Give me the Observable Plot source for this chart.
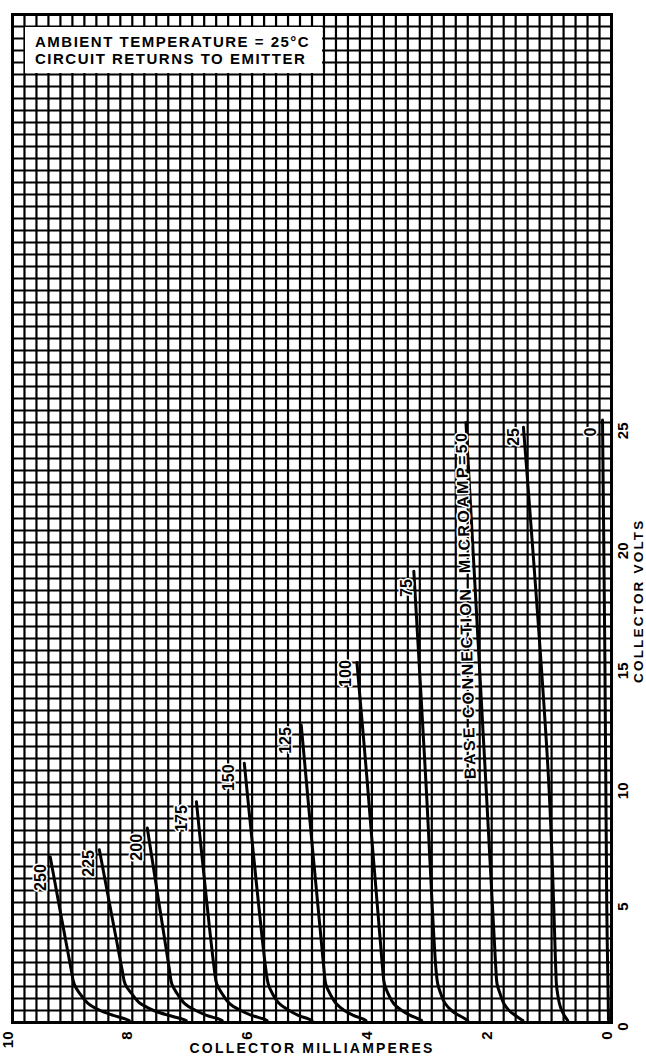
<!DOCTYPE html>
<html><head><meta charset="utf-8">
<script src="https://cdn.jsdelivr.net/npm/d3@7"></script>
<script src="https://cdn.jsdelivr.net/npm/@observablehq/plot@0.6"></script>
<style>
html,body{margin:0;padding:0;background:#fff;}
#wrap{position:relative;width:646px;height:1059px;overflow:hidden;}
#box{position:absolute;left:25px;top:27px;width:297px;height:46px;background:#fff;font-family:"Liberation Sans",Arial,sans-serif;font-weight:bold;font-size:15px;line-height:17px;letter-spacing:1.5px;color:#000;padding:6px 0 0 10px;box-sizing:border-box;white-space:nowrap;}
</style></head><body>
<div id="wrap"><div id="box">AMBIENT TEMPERATURE = 25°C<br>CIRCUIT RETURNS TO EMITTER</div></div>
<script>
// Base current of each curve (microamperes)
const baseMicroamps = [250, 225, 200, 175, 150, 125, 100, 75, 50, 25, 0];

// Each curve: collector volts (v...) and collector milliamperes (i...)
const v250 = [6.9, 2.2, 1.6, 1.2, 0.8, 0.5, 0.3, 0.15, 0.08];
const i250 = [9.37, 9.02, 8.97, 8.875, 8.74, 8.535, 8.32, 8.12, 8.05];
const v225 = [7.2, 2.2, 1.6, 1.2, 0.8, 0.5, 0.3, 0.15, 0.08];
const i225 = [8.55, 8.17, 8.12, 8.01, 7.87, 7.64, 7.40, 7.17, 7.10];
const v200 = [8.1, 2.2, 1.6, 1.2, 0.8, 0.5, 0.3, 0.15, 0.08];
const i200 = [7.75, 7.38, 7.34, 7.25, 7.13, 6.94, 6.76, 6.56, 6.50];
const v175 = [9.2, 2.2, 1.6, 1.2, 0.8, 0.5, 0.3, 0.15, 0.08];
const i175 = [6.93, 6.63, 6.59, 6.50, 6.38, 6.19, 6.01, 5.81, 5.75];
const v150 = [10.8, 2.2, 1.6, 1.2, 0.8, 0.5, 0.3, 0.15, 0.08];
const i150 = [6.13, 5.77, 5.73, 5.66, 5.55, 5.38, 5.23, 5.06, 5.00];
const v125 = [12.4, 2.2, 1.6, 1.2, 0.8, 0.5, 0.3, 0.15, 0.08];
const i125 = [5.18, 4.80, 4.77, 4.70, 4.60, 4.46, 4.31, 4.15, 4.10];
const v100 = [15.0, 10.1, 2.2, 1.6, 1.2, 0.8, 0.5, 0.3, 0.15, 0.08];
const i100 = [4.25, 4.08, 3.82, 3.79, 3.73, 3.64, 3.50, 3.36, 3.22, 3.17];
const v75 = [18.8, 10.1, 2.2, 1.6, 1.2, 0.8, 0.5, 0.3, 0.15, 0.08];
const i75 = [3.30, 3.10, 2.93, 2.90, 2.85, 2.78, 2.67, 2.55, 2.44, 2.40];
const v50 = [25.0, 10.1, 2.2, 1.6, 1.2, 0.8, 0.5, 0.3, 0.15, 0.08];
const i50 = [2.43, 2.10, 1.93, 1.91, 1.86, 1.80, 1.71, 1.61, 1.52, 1.48];
const v25 = [24.8, 10.1, 2.2, 1.6, 1.2, 0.8, 0.5, 0.3, 0.15, 0.08];
const i25 = [1.47, 1.05, 0.93, 0.92, 0.90, 0.87, 0.83, 0.79, 0.75, 0.73];
const v0 = [25.1, 15.0, 5.0, 0.1];
const i0 = [0.15, 0.11, 0.08, 0.05];

// Curve labels
const labelTexts = ["250", "225", "200", "175", "150", "125", "100", "75", "25", "0"];
const labelMA = [9.52, 8.72, 7.93, 7.17, 6.38, 5.43, 4.43, 3.42, 1.63, 0.35];
const labelVolts = [6.04, 6.63, 7.3, 8.5, 10.2, 11.75, 14.54, 18.1, 24.4, 24.6];
const baseLabel = "BASE CONNECTION  MICROAMP=50";
const baseLabelMA = 2.43;
const baseLabelVolts = 17.4;

// Axes
const mATicks = [10, 8, 6, 4, 2, 0];
const voltTicks = [0, 5, 10, 15, 20, 25];
const mADomain = [10, 0];
const voltDomain = [0, 42];
const mAGrid = d3.range(0, 51).map(k => k / 5);
const voltGrid = d3.range(0, 85).map(k => k / 2);

const seriesV = [v250, v225, v200, v175, v150, v125, v100, v75, v50, v25, v0];
const seriesI = [i250, i225, i200, i175, i150, i125, i100, i75, i50, i25, i0];
const rows = baseMicroamps.flatMap((ua, s) => seriesV[s].map((v, k) => ({ua, v, i: seriesI[s][k]})));
const labels = labelTexts.map((t, k) => ({t, i: labelMA[k], v: labelVolts[k]}));

const font = "'Liberation Sans', Arial, sans-serif";
const chart = Plot.plot({
  width: 646,
  height: 1059,
  marginTop: 14,
  marginBottom: 37,
  marginLeft: 12,
  marginRight: 35,
  x: {domain: mADomain, axis: null},
  y: {domain: voltDomain, axis: null},
  style: {fontFamily: font, background: "white", color: "black"},
  marks: [
    Plot.ruleX(mAGrid, {stroke: "black", strokeWidth: 2.2}),
    Plot.ruleY(voltGrid, {stroke: "black", strokeWidth: 2.2}),
    Plot.frame({stroke: "black", strokeWidth: 3}),
    Plot.line(rows, {x: "i", y: "v", z: "ua", stroke: "black", strokeWidth: 3, curve: "catmull-rom"}),
    Plot.text(labels, {x: "i", y: "v", text: "t", rotate: -90, fontSize: 16, fontWeight: "bold", fill: "black", stroke: "white", strokeWidth: 3, paintOrder: "stroke"}),
    Plot.text([baseLabel], {x: () => baseLabelMA, y: () => baseLabelVolts, text: d => d, rotate: -91.5, fontSize: 16, fontWeight: "bold", fill: "black", stroke: "white", strokeWidth: 3, paintOrder: "stroke"}),
    Plot.text(mATicks, {x: d => d, frameAnchor: "bottom", dy: 9, rotate: -90, textAnchor: "end", text: d => String(d), fontSize: 15, fontWeight: "bold"}),
    Plot.text(voltTicks, {y: d => d, frameAnchor: "right", dx: 12, rotate: -90, text: d => String(d), fontSize: 15, fontWeight: "bold"}),
    Plot.text(["COLLECTOR MILLIAMPERES"], {frameAnchor: "bottom", dy: 30, text: d => d, fontSize: 14, fontWeight: "bold"}),
    Plot.text(["COLLECTOR VOLTS"], {frameAnchor: "right", dx: 27, rotate: -90, text: d => d, fontSize: 13.5, fontWeight: "bold"})
  ]
});
const sel = d3.select(chart).selectAll("text");
sel.filter(function() { return this.textContent === "COLLECTOR MILLIAMPERES"; }).style("letter-spacing", "2.2px");
sel.filter(function() { return this.textContent === "COLLECTOR VOLTS"; }).style("letter-spacing", "2.2px");
sel.filter(function() { return this.textContent === baseLabel; }).style("letter-spacing", "2.4px").style("white-space", "pre");
document.getElementById("wrap").prepend(chart);
</script>
</body></html>
